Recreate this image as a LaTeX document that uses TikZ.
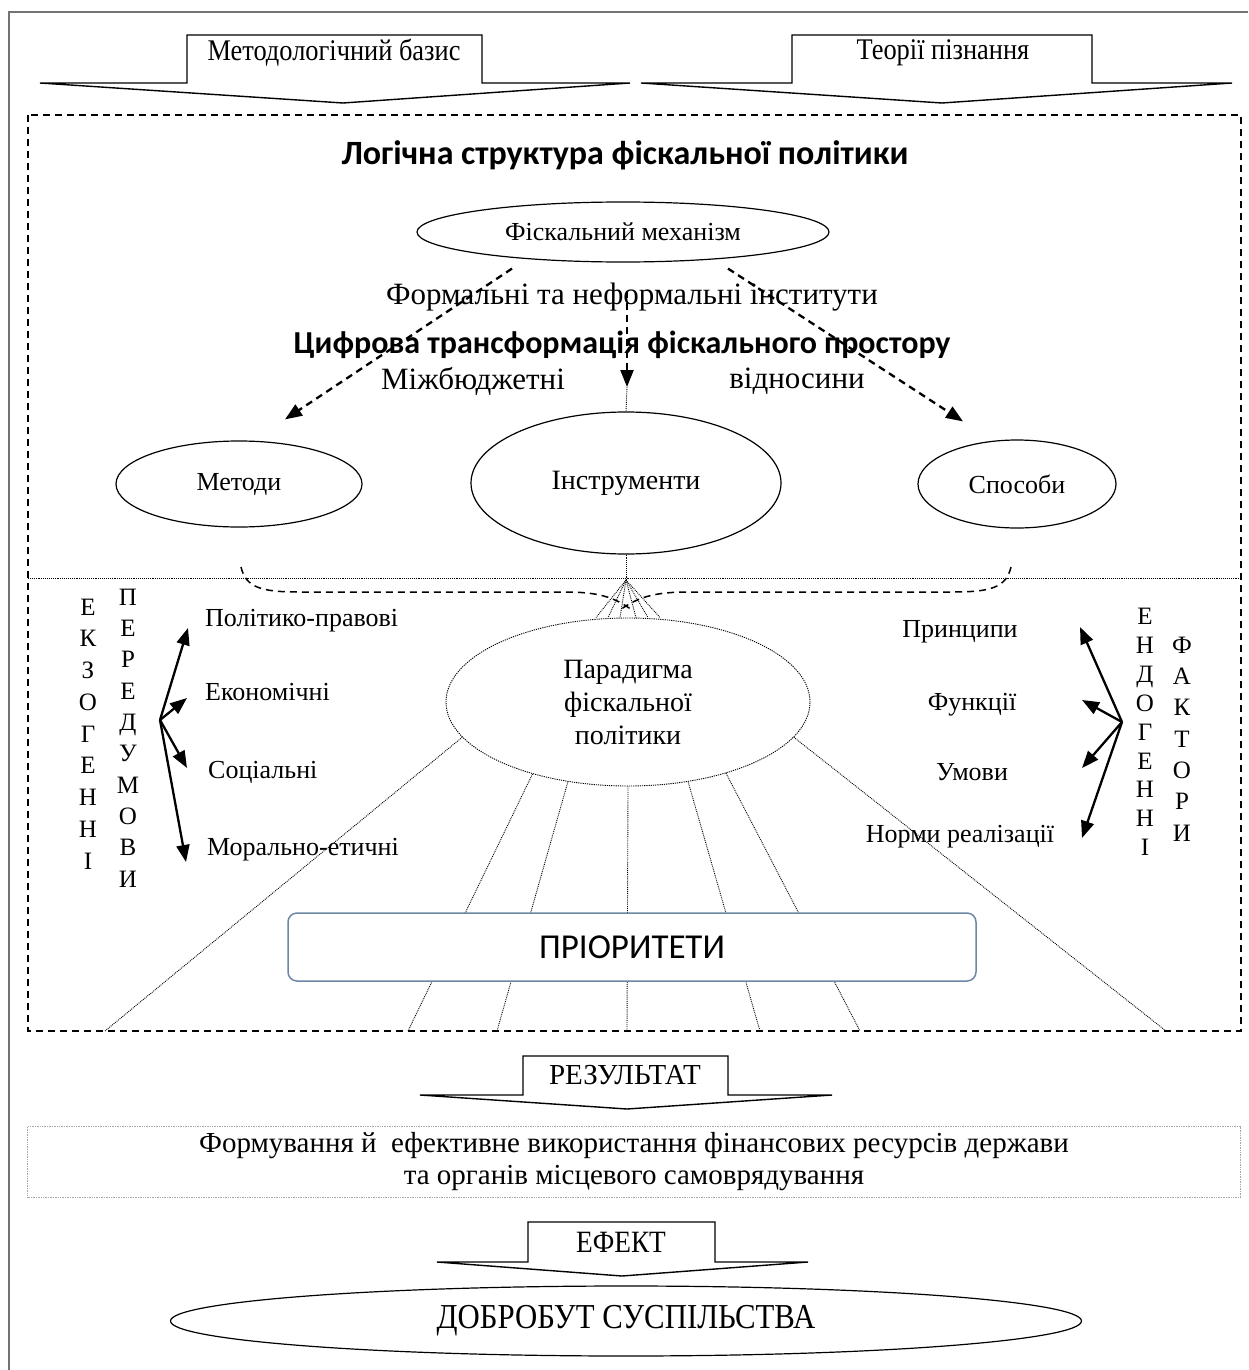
\documentclass[tikz,border=0pt]{standalone}
\usepackage{fontspec}
\setmainfont{Liberation Serif}
\newfontfamily\calfont{Carlito}
\usetikzlibrary{shapes.geometric,arrows.meta}

\definecolor{ramka}{gray}{0.45}
\definecolor{sinii}{RGB}{110,135,165}

% вузький шрифт у стрілках
\newcommand{\vuzko}[2]{\scalebox{0.88}[1]{\fontsize{#1}{#1}\selectfont #2}}

\tikzset{
  napys/.style={inner sep=0pt, font=\fontsize{26}{31}\selectfont},
  ovalnyi/.style={ellipse, draw, line width=1.2pt, inner sep=0pt, font=\fontsize{26}{31}\selectfont},
  blok/.style={draw, line width=1.4pt, fill=white},
  strilka/.style={-{Triangle[length=17pt,width=13pt]}, line width=2.3pt},
  tochky/.style={densely dotted, line width=0.9pt},
  shtrykh/.style={dash pattern=on 7pt off 5pt},
  litery/.style={inner sep=0pt, align=center},
}

\begin{document}
\begin{tikzpicture}[x=1pt, y=-1pt]
    \useasboundingbox ( 0, 0 ) rectangle ( 1248, 1370 );
    % рамка
    \draw [ramka, line width=1.5pt] ( 9, 1370 ) -- ( 9, 12 ) -- ( 1248, 12 );

    % верхні стрілки
    \draw [blok] ( 187, 83 ) -- ( 187, 35 ) -- ( 482, 35 ) -- ( 482, 83 ) -- ( 630, 83 ) -- ( 343, 103 ) -- ( 40, 83 ) -- cycle;
    \node [napys] (bazys) at ( 334, 53 ) {\vuzko{30}{Методологічний базис}};
    \draw [blok] ( 792, 83 ) -- ( 792, 35 ) -- ( 1092, 35 ) -- ( 1092, 83 ) -- ( 1232, 83 ) -- ( 942, 103 ) -- ( 641, 83 ) -- cycle;
    \node [napys] (teorii) at ( 943, 53 ) {\vuzko{30}{Теорії пізнання}};

    % логічна структура
    \draw [shtrykh, line width=1.6pt] ( 28, 115 ) rectangle ( 1241, 1031 );
    \draw [tochky] ( 28, 578 ) -- ( 1241, 578 );
    \node [font=\calfont\bfseries\fontsize{34}{40}\selectfont] (struktura) at ( 625, 155 ) {Логічна структура фіскальної політики};

    \node [ovalnyi, minimum width=412pt, minimum height=60pt] (mekhanizm) at ( 623, 232 ) {Фіскальний механізм};
    \node [napys, font=\fontsize{31}{36}\selectfont] (instytuty) at ( 632, 297 ) {Формальні та неформальні інститути};
    \node [font=\calfont\bfseries\fontsize{32}{38}\selectfont] (tsyfrova) at ( 622, 345 ) {Цифрова трансформація фіскального простору};
    \node [napys, font=\fontsize{31}{36}\selectfont] (mizhb) at ( 473, 381 ) {Міжбюджетні};
    \node [napys, font=\fontsize{31}{36}\selectfont] (vidnos) at ( 797, 381 ) {відносини};

    \node [ovalnyi, minimum width=246pt, minimum height=86pt] (metody) at ( 239, 484 ) {Методи};
    \node [ovalnyi, minimum width=310pt, minimum height=142pt, font=\fontsize{28}{33}\selectfont] (instrumenty) at ( 626, 483 ) {Інструменти};
    \node [ovalnyi, minimum width=198pt, minimum height=88pt] (sposoby) at ( 1017, 484 ) {Способи};

    % пунктирні стрілки
    \draw [shtrykh, strilka] ([xshift=-111pt, yshift=-6pt] mekhanizm.south) -- ([xshift=46pt, yshift=21pt] metody.north);
    \draw [shtrykh, strilka] ([xshift=105pt, yshift=-6pt] mekhanizm.south) -- ([xshift=-54pt, yshift=18pt] sposoby.north);
    \coordinate (vhid) at ( 627, 387 );
    \draw [shtrykh, strilka] ([xshift=4pt, yshift=-28pt] mekhanizm.south) -- (vhid);
    \draw [tochky] (vhid) -- (instrumenty.north);

    % дужка
    \draw [shtrykh, line width=1.5pt] ( 241, 567 ) .. controls ( 246, 588 ) and ( 262, 592 ) .. ( 300, 592 ) -- ( 565, 592 ) .. controls ( 598, 592 ) and ( 614, 597 ) .. ( 632, 610 );
    \draw [shtrykh, line width=1.5pt] ( 1011, 567 ) .. controls ( 1006, 588 ) and ( 990, 592 ) .. ( 952, 592 ) -- ( 688, 592 ) .. controls ( 655, 592 ) and ( 638, 597 ) .. ( 620, 610 );
    \coordinate (vershyna) at ( 626, 580 );
    \draw [tochky] (instrumenty.south) -- (vershyna);

    % парадигма
    \node [ovalnyi, tochky, minimum width=364pt, minimum height=168pt, align=center, font=\fontsize{28}{33}\selectfont] (paradyhma) at ( 628, 702 ) {Парадигма\\фіскальної\\політики};
    \draw [tochky] (vershyna) -- ([xshift=-32pt] paradyhma.north);
    \draw [tochky] (vershyna) -- ([xshift=-20pt] paradyhma.north);
    \draw [tochky] (vershyna) -- ([xshift=-8pt] paradyhma.north);
    \draw [tochky] (vershyna) -- ([xshift=8pt] paradyhma.north);
    \draw [tochky] (vershyna) -- ([xshift=20pt] paradyhma.north);
    \draw [tochky] (vershyna) -- ([xshift=32pt] paradyhma.north);

    % промені до низу
    \coordinate (niz1) at ( 105, 1031 );
    \coordinate (niz2) at ( 408, 1031 );
    \coordinate (niz3) at ( 497, 1031 );
    \coordinate (niz4) at ( 627, 1031 );
    \coordinate (niz5) at ( 760, 1031 );
    \coordinate (niz6) at ( 860, 1031 );
    \coordinate (niz7) at ( 1166, 1031 );
    \draw [tochky] (paradyhma.192) -- (niz1);
    \draw [tochky] (paradyhma.217) -- (niz2);
    \draw [tochky] (paradyhma.233) -- (niz3);
    \draw [tochky] (paradyhma.south) -- (niz4);
    \draw [tochky] (paradyhma.307) -- (niz5);
    \draw [tochky] (paradyhma.324) -- (niz6);
    \draw [tochky] (paradyhma.348) -- (niz7);
    \node [draw=sinii, line width=1.5pt, rounded corners=9pt, fill=white, minimum width=688pt, minimum height=68pt, font=\calfont\fontsize{35}{42}\selectfont] (priorytety) at ( 632, 947 ) {ПРІОРИТЕТИ};

    % екзогенні передумови
    \node [litery, font=\fontsize{25}{31.75}\selectfont] (ekzo) at ( 88, 734 ) {Е\\К\\З\\О\\Г\\Е\\Н\\Н\\І};
    \node [litery, font=\fontsize{25}{31.3}\selectfont] (peredumovy) at ( 128, 738 ) {П\\Е\\Р\\Е\\Д\\У\\М\\О\\В\\И};
    \node [napys, anchor=west] (polit) at ( 205, 621 ) {Політико-правові};
    \node [napys, anchor=west] (ekon) at ( 205, 692 ) {Економічні};
    \node [napys, anchor=west] (sots) at ( 208, 772 ) {Соціальні};
    \node [napys, anchor=west] (moral) at ( 207, 850 ) {Морально-етичні};
    \coordinate (rozvylka) at ( 160, 720 );
    \draw [strilka] (rozvylka) -- ([xshift=28pt, yshift=92pt] rozvylka);
    \draw [strilka] (rozvylka) -- ([xshift=27pt, yshift=22pt] rozvylka);
    \draw [strilka] (rozvylka) -- ([xshift=27pt, yshift=-48pt] rozvylka);
    \draw [strilka] (rozvylka) -- ([xshift=26pt, yshift=-142pt] rozvylka);

    % ендогенні фактори
    \node [napys] (pryntsypy) at ( 960, 632 ) {Принципи};
    \node [napys] (funktsii) at ( 972, 705 ) {Функції};
    \node [napys] (umovy) at ( 972, 772 ) {Умови};
    \node [napys] (normy) at ( 960, 837 ) {Норми реалізації};
    \node [litery, font=\fontsize{25}{28.9}\selectfont] (endohenni) at ( 1145, 732 ) {Е\\Н\\Д\\О\\Г\\Е\\Н\\Н\\І};
    \node [litery, font=\fontsize{25}{31.3}\selectfont] (faktory) at ( 1182, 739 ) {Ф\\А\\К\\Т\\О\\Р\\И};
    \coordinate (endo) at ( 1122, 722 );
    \draw [strilka] (endo) -- ([xshift=-42pt, yshift=95pt] endo);
    \draw [strilka] (endo) -- ([xshift=-40pt, yshift=22pt] endo);
    \draw [strilka] (endo) -- ([xshift=-40pt, yshift=-46pt] endo);
    \draw [strilka] (endo) -- ([xshift=-40pt, yshift=-116pt] endo);

    % результат
    \draw [blok] ( 523, 1095 ) -- ( 523, 1056 ) -- ( 728, 1056 ) -- ( 728, 1095 ) -- ( 832, 1095 ) -- ( 627, 1109 ) -- ( 420, 1095 ) -- cycle;
    \node [napys, font=\fontsize{29}{34}\selectfont] (rezultat) at ( 625, 1075 ) {РЕЗУЛЬТАТ};
    \node [draw=gray!70, densely dotted, line width=0.7pt, minimum width=1213pt, minimum height=71pt, align=center, font=\fontsize{29}{32}\selectfont] (resursy) at ( 634, 1162 ) {Формування й\ \ ефективне використання фінансових ресурсів держави\\та органів місцевого самоврядування};

    % ефект
    \draw [blok] ( 528, 1262 ) -- ( 528, 1222 ) -- ( 715, 1222 ) -- ( 715, 1262 ) -- ( 808, 1262 ) -- ( 622, 1276 ) -- ( 437, 1262 ) -- cycle;
    \node [napys] (efekt) at ( 621, 1242 ) {\vuzko{31}{ЕФЕКТ}};
    \node [ovalnyi, minimum width=911pt, minimum height=70pt] (dobrobut) at ( 626, 1321 ) {\vuzko{35}{ДОБРОБУТ СУСПІЛЬСТВА}};
\end{tikzpicture}
\end{document}
